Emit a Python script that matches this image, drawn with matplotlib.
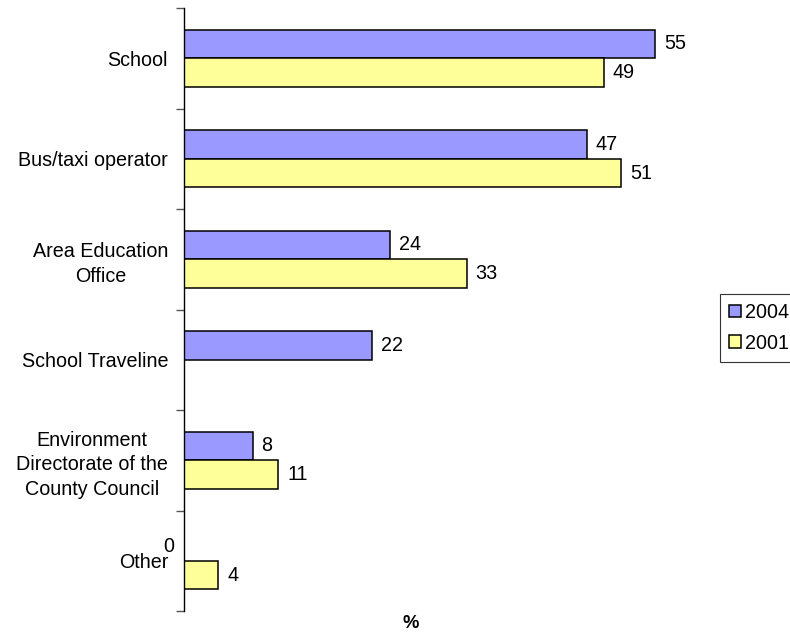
import numpy as np
import matplotlib.pyplot as plt
from matplotlib.patches import Patch

plt.rcParams["font.family"] = ["Liberation Sans", "DejaVu Sans"]

categories = [
    "School",
    "Bus/taxi operator",
    "Area Education\nOffice",
    "School Traveline",
    "Environment\nDirectorate of the\nCounty Council",
    "Other",
]
values_2004 = [55, 47, 24, 22, 8, 0]
values_2001 = [49, 51, 33, np.nan, 11, 4]

color_2004 = "#9999FF"
color_2001 = "#FFFF99"
fs = 14.2

fig = plt.figure(figsize=(7.9, 6.33), dpi=100)
ax = fig.add_axes([184 / 790, 1 - 611 / 633, 514 / 790, 603 / 633])

y = np.arange(len(categories))
h = 0.284

for vals, off, col in [(values_2004, -h / 2, color_2004), (values_2001, h / 2, color_2001)]:
    for yi, v in zip(y, vals):
        if np.isnan(v):
            continue
        if v > 0:
            ax.barh(yi + off, v, height=h, color=col, edgecolor="black", linewidth=1.1)
            ax.annotate(f"{v:g}", (v, yi + off), xytext=(9, 0), textcoords="offset pixels",
                        ha="left", va="center", fontsize=fs)
        else:
            # zero-length bar: value sits just left of the axis
            ax.annotate(f"{v:g}", (0, yi + off), xytext=(-15, 0), textcoords="offset pixels",
                        ha="center", va="center", fontsize=fs)

ax.set_xlim(0, 60)
ax.set_ylim(len(categories) - 0.5, -0.5)

for s in ["top", "right", "bottom"]:
    ax.spines[s].set_visible(False)
ax.spines["left"].set_linewidth(1.0)
ax.set_xticks([])

# ticks sit between categories, labels in the middle
ax.set_yticks(np.arange(-0.5, len(categories), 1.0))
ax.set_yticklabels([])
ax.tick_params(axis="y", which="major", length=6, width=1.0, color="#555555")
ax.set_yticks(y, minor=True)
ax.set_yticklabels(categories, minor=True, fontsize=fs, multialignment="center", linespacing=1.35)
ax.tick_params(axis="y", which="minor", length=0, pad=11.5)

fig.text(411 / 790, 1 - 623 / 633, "%", ha="center", va="center", fontsize=fs - 1, fontweight="bold")

handles = [
    Patch(facecolor=color_2004, edgecolor="black", linewidth=1.1, label="2004"),
    Patch(facecolor=color_2001, edgecolor="black", linewidth=1.1, label="2001"),
]
leg = fig.legend(handles=handles, loc="upper left", bbox_to_anchor=(720 / 790, 1 - 294 / 633),
                 fontsize=fs, frameon=True, fancybox=False, handlelength=0.62, handleheight=0.62,
                 handletextpad=0.2, borderpad=0.45, labelspacing=0.6, borderaxespad=0)
leg.get_frame().set_edgecolor("black")
leg.get_frame().set_linewidth(0.8)

fig.savefig("out.png", dpi=100)
